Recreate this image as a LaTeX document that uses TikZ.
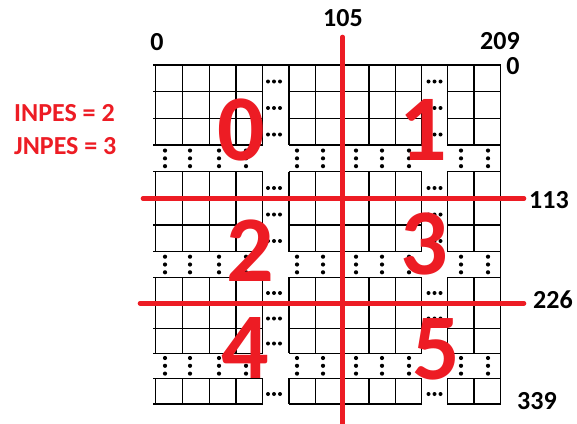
\documentclass[tikz,border=0pt]{standalone}
\usepackage{fontspec}
\setmainfont{Carlito}
\definecolor{splitred}{RGB}{237,28,36}
\begin{document}
\begin{tikzpicture}[x=1pt,y=-1pt,
  gridline/.style={line width=1.05pt,black},
  splitline/.style={line width=4.6pt,splitred,line cap=round},
  bigdigit/.style={text=splitred,font=\bfseries\fontsize{94}{94}\selectfont,inner sep=0pt},
  axislabel/.style={text=black,font=\bfseries\fontsize{26}{26}\selectfont,inner sep=0pt},
  infolabel/.style={text=splitred,font=\bfseries\fontsize{26}{26}\selectfont,inner sep=0pt,anchor=west},
  dotmark/.style={fill=black}]
\useasboundingbox (0,0) rectangle (577,423);
\fill[white] (0,0) rectangle (577,423);
% vertical grid lines (interrupted in the gap rows)
\foreach \x in {155.7,182.7,209.7,236,262.7,289,315.7,342,369,395.3,421.7,447.3,474}{
  \draw[gridline] (\x,65)--(\x,145) (\x,171.7)--(\x,251.7) (\x,277.3)--(\x,353.3) (\x,378.3)--(\x,404);
}
\draw[gridline] (500.7,65)--(500.7,404);
% horizontal grid lines (interrupted in the gap columns)
\draw[gridline] (153,65)--(500.7,65);
\foreach \y in {91.7,118.3,145,171.7,198.3,225,251.7,277.3,303.3,328.3,353.3,378.3,404}{
  \draw[gridline] (153,\y)--(262.7,\y) (289,\y)--(421.7,\y) (447.3,\y)--(500.7,\y);
}
% horizontal ellipsis dots in the gap columns
\foreach \cx in {274,434.5}{
  \foreach \cy in {81.5,108,134.5,188,214.5,241,293,318.5,343.5,394}{
    \foreach \d in {-6,0,6}{
      \fill[dotmark] (\cx+\d,\cy) circle (2.0);
    }
  }
}
% vertical dots in the gap rows
\foreach \cy in {158.35,264.5,365.8}{
  \foreach \cx in {165,190,219,246,297,323,356,382,409,461,488}{
    \foreach \d in {-7.8,0,7.8}{
      \fill[dotmark] (\cx,\cy+\d) circle (2.1);
    }
  }
}
% red splitting lines
\coordinate (vtop) at (342.5,37);
\coordinate (vbot) at (342.5,426);
\coordinate (haL) at (143,198.5);
\coordinate (haR) at (524,198.5);
\coordinate (hbL) at (140,303.3);
\coordinate (hbR) at (524,303.3);
\draw[splitline] (vtop)--(vbot);
\draw[splitline] (haL)--(haR);
\draw[splitline] (hbL)--(hbR);
% big red process numbers
\node[bigdigit] (p0) at (241.7,130) {0};
\node[bigdigit] (p1) at (423,130) {1};
\node[bigdigit] (p2) at (250,251) {2};
\node[bigdigit] (p3) at (424,244) {3};
\node[bigdigit] (p4) at (245.6,348) {4};
\node[bigdigit] (p5) at (436.7,349) {5};
% axis labels
\node[axislabel] (l0) at (157,42) {0};
\node[axislabel] (l105) at (343,18) {105};
\node[axislabel] (l209) at (500,41.5) {209};
\node[axislabel] (l0b) at (513,66) {0};
\node[axislabel] (l113) at (549,200) {113};
\node[axislabel] (l226) at (553,300) {226};
\node[axislabel] (l339) at (537,401) {339};
% info text
\node[infolabel] (inpes) at (14,113) {INPES = 2};
\node[infolabel] (jnpes) at (14,146) {JNPES = 3};
\end{tikzpicture}
\end{document}
